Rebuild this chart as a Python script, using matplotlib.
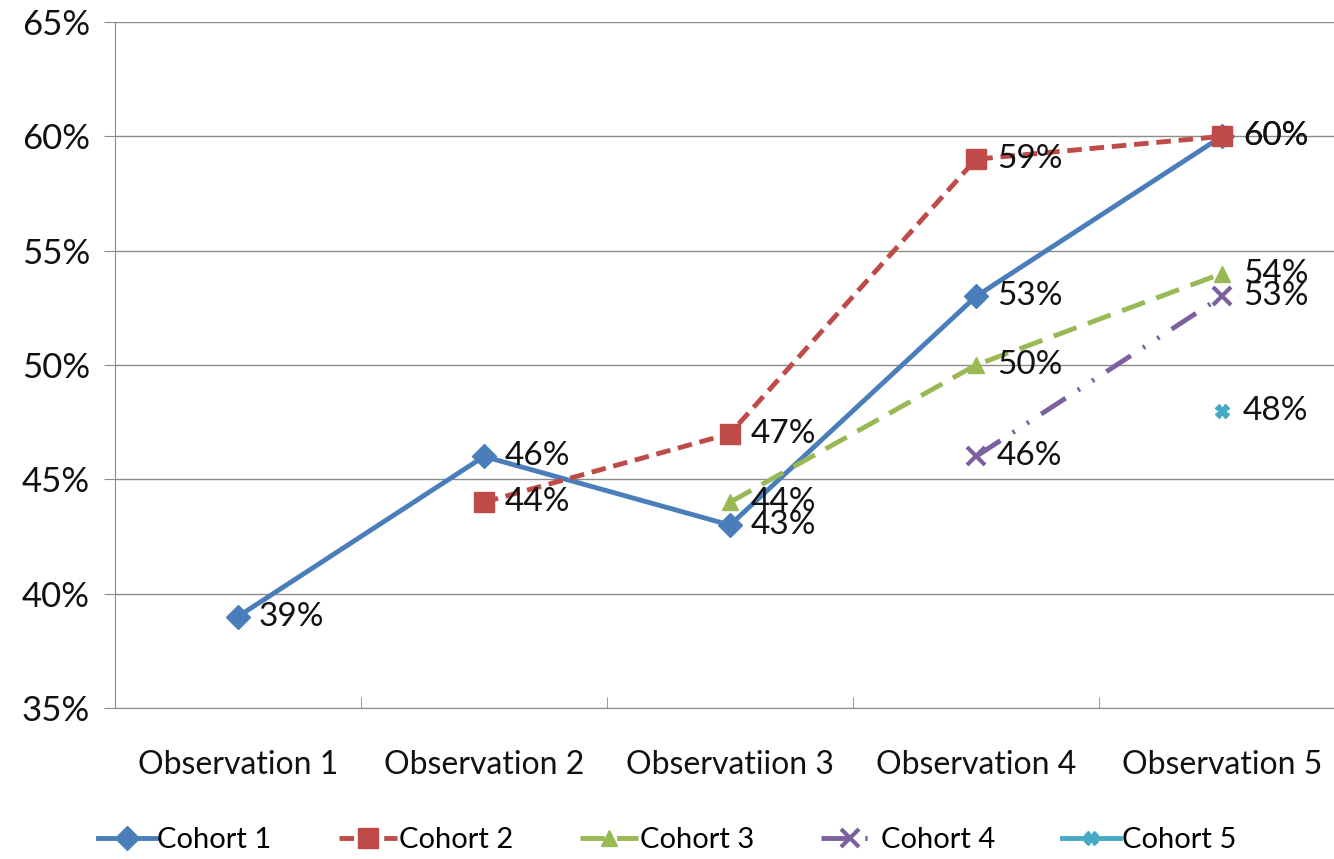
import numpy as np
import matplotlib
matplotlib.use("Agg")
import matplotlib.pyplot as plt
from matplotlib.ticker import FuncFormatter, MultipleLocator

plt.rcParams['font.family'] = ['Lato', 'DejaVu Sans']

categories = ["Observation 1", "Observation 2", "Observatiion 3", "Observation 4", "Observation 5"]
cohort_names = ["Cohort 1", "Cohort 2", "Cohort 3", "Cohort 4", "Cohort 5"]
cohort1 = [39, 46, 43, 53, 60]
cohort2 = [np.nan, 44, 47, 59, 60]
cohort3 = [np.nan, np.nan, 44, 50, 54]
cohort4 = [np.nan, np.nan, np.nan, 46, 53]
cohort5 = [np.nan, np.nan, np.nan, np.nan, 48]

series = [cohort1, cohort2, cohort3, cohort4, cohort5]
colors = ["#4A7EBB", "#BE4B48", "#98B954", "#7D60A0", "#46AAC5"]
markers = ["D", "s", "^", "x", "X"]
msizes = [12, 15, 12, 13, 10]
linestyles = ["-", (0, (3, 1.6)), (0, (5, 2.5)), (0, (6, 3, 0.5, 3, 0.5, 3)), "-"]

fig = plt.figure(figsize=(13.34, 8.59), dpi=100)
W, H = 1334, 859
left, right, top, bottom = 115, 1345, 22, 708
ax = fig.add_axes([left / W, 1 - bottom / H, (right - left) / W, (bottom - top) / H])

x = np.arange(len(categories))
for vals, name, c, m, ms, ls in zip(series, cohort_names, colors, markers, msizes, linestyles):
    v = np.array(vals, dtype=float)
    ax.plot(x, v, color=c, lw=3.5, linestyle=ls, marker=m, markersize=ms,
            markeredgewidth=3 if m == "x" else 1, markeredgecolor=c,
            label=name, clip_on=False, zorder=3)
    for xi, yi in zip(x, v):
        if not np.isnan(yi):
            ax.annotate(f"{int(yi)}%", (xi, yi), xytext=(15, 0), textcoords="offset points",
                        va="center", ha="left", fontsize=24, color="#111111", zorder=4)

ax.set_xlim(-0.5, 4.5)
ax.set_ylim(35, 65)
ax.yaxis.set_major_locator(MultipleLocator(5))
ax.yaxis.set_major_formatter(FuncFormatter(lambda v, p: f"{int(round(v))}%"))
ax.grid(axis="y", color="#8C8C8C", lw=1)
ax.set_axisbelow(True)
ax.set_xticks(x)
ax.set_xticklabels(categories)
ax.set_xticks(np.arange(len(categories) + 1) - 0.5, minor=True)
ax.tick_params(axis="x", which="major", length=0, pad=30, labelsize=23, labelcolor="#111111")
ax.tick_params(axis="x", which="minor", length=8, direction="in", color="#8C8C8C")
ax.tick_params(axis="y", length=8, direction="out", color="#8C8C8C", labelsize=25,
               labelcolor="#111111", pad=10)
for s in ["top", "right"]:
    ax.spines[s].set_visible(False)
ax.spines["left"].set_color("#8C8C8C")
ax.spines["bottom"].set_color("#8C8C8C")

handles, labels = ax.get_legend_handles_labels()
fig.legend(handles, labels, loc="center", bbox_to_anchor=(0.5, 1 - 840 / H), ncol=5,
           frameon=False, fontsize=21, handlelength=2.0, handletextpad=0.05,
           columnspacing=2.3)

fig.savefig("out.png", dpi=100)
